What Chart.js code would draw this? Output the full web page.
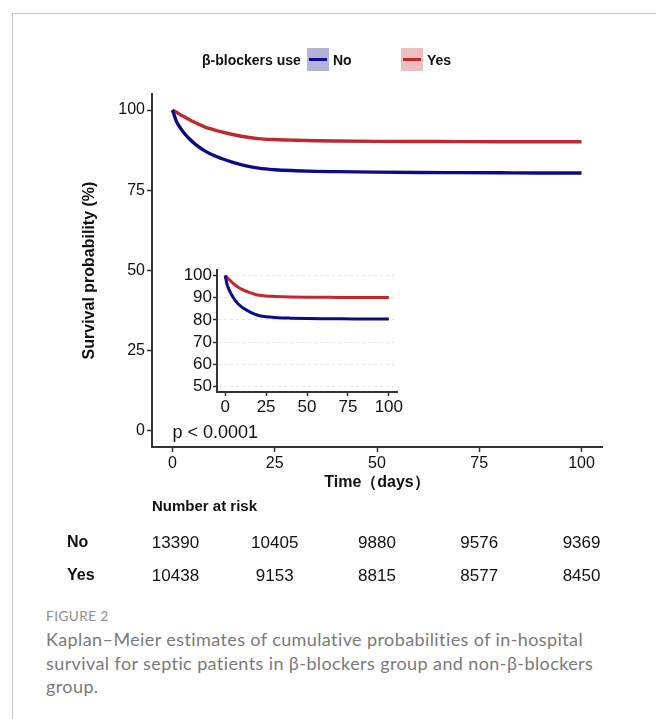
<!DOCTYPE html>
<html>
<head>
<meta charset="utf-8">
<script src="https://cdn.jsdelivr.net/npm/chart.js@4/dist/chart.umd.min.js"></script>
<style>
  html, body { margin: 0; padding: 0; background: #fff; }
  body { width: 656px; height: 719px; position: relative; overflow: hidden; font-family: "Liberation Sans", Arial, sans-serif; }
  .frame { position: absolute; left: 12px; top: 13px; width: 700px; height: 800px; border: 1px solid #c4c4c4; }
  #main { position: absolute; left: 0; top: 0; }
  #inset { position: absolute; left: 160px; top: 258px; }
  .legend { position: absolute; top: 48px; left: 202px; height: 23px; font-weight: bold; font-size: 14px; color: #111; }
  .legend span { position: absolute; top: 4px; white-space: nowrap; }
  .sw { position: absolute; top: 0; width: 22px; height: 23px; }
  .sw i { position: absolute; left: 2px; right: 2px; top: 10px; height: 3px; }
  .cap { position: absolute; left: 46px; font-family: Lato, "Open Sans", sans-serif; white-space: nowrap; }
  .fig { top: 608px; font-size: 13.5px; color: #8e8e8e; letter-spacing: 0.5px; }
  .txt { top: 628px; font-size: 18px; line-height: 23.5px; color: #7a7a7a; letter-spacing: 0.4px; }
</style>
</head>
<body>
<div class="frame"></div>
<canvas id="main" width="656" height="600"></canvas>
<canvas id="inset" width="250" height="165"></canvas>

<div class="legend">
  <span style="left:0">β-blockers use</span>
  <div class="sw" style="left:105px;background:rgba(20,20,140,0.32)"><i style="background:#0b0b8a"></i></div>
  <span style="left:131px">No</span>
  <div class="sw" style="left:199px;background:rgba(192,40,45,0.3)"><i style="background:#c0282d"></i></div>
  <span style="left:225px">Yes</span>
</div>

<div class="cap fig">FIGURE 2</div>
<div class="cap txt">Kaplan–Meier estimates of cumulative probabilities of in-hospital<br>survival for septic patients in β-blockers group and non-β-blockers<br>group.</div>

<script>
// survival curves (days, % surviving)
const days = [0, 1, 2, 3, 4, 5, 6, 8, 10, 12, 15, 18, 21, 25, 30, 35, 40, 50, 60, 70, 80, 90, 100];
const survNo = [100, 96.4, 94.3, 92.6, 91.2, 90.0, 88.9, 87.2, 85.9, 84.9, 83.6, 82.6, 81.9, 81.4, 81.1, 80.9, 80.8, 80.65, 80.55, 80.5, 80.45, 80.4, 80.4];
const survYes = [100, 99.3, 98.5, 97.8, 97.1, 96.4, 95.8, 94.7, 93.9, 93.2, 92.3, 91.6, 91.1, 90.8, 90.6, 90.45, 90.35, 90.25, 90.2, 90.15, 90.12, 90.1, 90.1];

// axis ticks
const xTicks = [0, 25, 50, 75, 100];
const yTicks = [0, 25, 50, 75, 100];
const insetYTicks = [50, 60, 70, 80, 90, 100];

// number at risk table
const riskTimes = [0, 25, 50, 75, 100];
const riskNo = [13390, 10405, 9880, 9576, 9369];
const riskYes = [10438, 9153, 8815, 8577, 8450];
const groups = ['No', 'Yes'];
const pText = 'p < 0.0001';

const BLUE = '#0b0b8a';
const RED = '#c0282d';
const AXIS = '#333';

Chart.defaults.font.family = '"Liberation Sans", Arial, sans-serif';
Chart.defaults.color = '#111';

function series(lw) {
  return [
    { label: groups[0], data: days.map((d, i) => ({ x: d, y: survNo[i] })), borderColor: BLUE, borderWidth: lw },
    { label: groups[1], data: days.map((d, i) => ({ x: d, y: survYes[i] })), borderColor: RED, borderWidth: lw }
  ].map(ds => Object.assign(ds, { pointRadius: 0, cubicInterpolationMode: 'monotone', fill: false }));
}

function setTicks(list) {
  return scale => { scale.ticks = list.map(v => ({ value: v })); };
}

// p-value and risk table drawn below the main plot
const extras = {
  id: 'extras',
  afterDraw(chart) {
    const ctx = chart.ctx;
    const x = chart.scales.x, y = chart.scales.y;
    ctx.save();
    ctx.fillStyle = '#111';
    ctx.textBaseline = 'middle';
    ctx.font = '18px "Liberation Sans", Arial';
    ctx.textAlign = 'left';
    ctx.fillText(pText, x.getPixelForValue(0), y.getPixelForValue(0) + 2);

    ctx.font = 'bold 15px "Liberation Sans", Arial';
    ctx.fillText('Number at risk', 152, 507);
    ctx.font = 'bold 16px "Liberation Sans", Arial';
    ctx.fillText(groups[0], 67, 543);
    ctx.fillText(groups[1], 67, 576);

    ctx.font = '17px "Liberation Sans", Arial';
    ctx.textAlign = 'center';
    riskTimes.forEach((t, i) => {
      const px = x.getPixelForValue(t) + (i === 0 ? 3 : 0);
      ctx.fillText(String(riskNo[i]), px, 543);
      ctx.fillText(String(riskYes[i]), px, 576);
    });
    ctx.restore();
  }
};

new Chart(document.getElementById('main'), {
  type: 'line',
  data: { datasets: series(3.4) },
  options: {
    responsive: false,
    animation: false,
    layout: { padding: { left: 78, right: 54, top: 94, bottom: 108 } },
    plugins: { legend: { display: false }, tooltip: { enabled: false } },
    scales: {
      x: {
        type: 'linear', min: -5, max: 105,
        afterBuildTicks: setTicks(xTicks),
        afterFit: s => { s.height = 45; },
        grid: { display: true, drawOnChartArea: false, tickLength: 5, color: AXIS, tickWidth: 1.5 },
        border: { color: AXIS, width: 2 },
        ticks: { font: { size: 16 }, padding: 2, color: '#111' },
        title: { display: true, text: 'Time（days）', font: { size: 16, weight: 'bold' }, color: '#111', padding: { top: 0, bottom: 0 } }
      },
      y: {
        min: -5, max: 105,
        afterBuildTicks: setTicks(yTicks),
        afterFit: s => { s.width = 74; },
        grid: { display: true, drawOnChartArea: false, tickLength: 5, color: AXIS, tickWidth: 1.5 },
        border: { color: AXIS, width: 2 },
        ticks: { font: { size: 16 }, padding: 2, color: '#111' },
        title: { display: true, text: 'Survival probability (%)', font: { size: 16, weight: 'bold' }, color: '#111', padding: { top: 2, bottom: 0 } }
      }
    }
  },
  plugins: [extras]
});

new Chart(document.getElementById('inset'), {
  type: 'line',
  data: { datasets: series(3) },
  options: {
    responsive: false,
    animation: false,
    layout: { padding: { left: 10, right: 13, top: 12, bottom: 6 } },
    plugins: { legend: { display: false }, tooltip: { enabled: false } },
    scales: {
      x: {
        type: 'linear', min: -5, max: 105,
        afterBuildTicks: setTicks(xTicks),
        afterFit: s => { s.height = 25; },
        grid: { display: true, drawOnChartArea: false, tickLength: 4, color: AXIS, tickWidth: 1.5 },
        border: { color: AXIS, width: 2 },
        ticks: { font: { size: 17 }, padding: 1, color: '#111' }
      },
      y: {
        min: 47.5, max: 102.5,
        afterBuildTicks: setTicks(insetYTicks),
        afterFit: s => { s.width = 47; },
        grid: { display: true, tickLength: 4, color: '#dcdcdc', tickColor: AXIS, tickWidth: 1.5, lineWidth: 0.8 },
        border: { color: AXIS, width: 2, dash: [3, 3] },
        ticks: { font: { size: 17 }, padding: 1, color: '#111' }
      }
    }
  }
});
</script>
</body>
</html>
